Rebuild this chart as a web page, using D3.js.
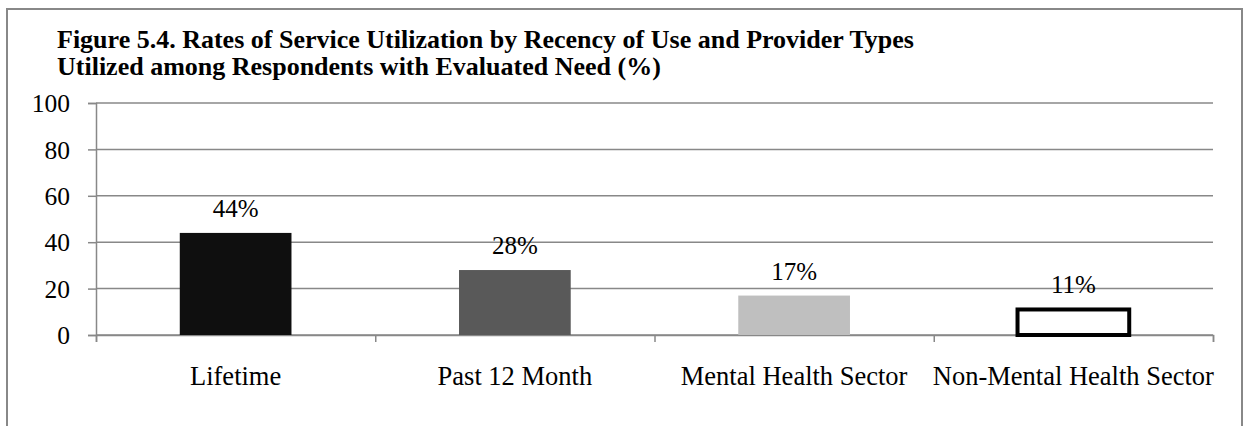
<!DOCTYPE html>
<html>
<head>
<meta charset="utf-8">
<script src="https://cdnjs.cloudflare.com/ajax/libs/d3/7.8.5/d3.min.js"></script>
<style>
  html, body { margin: 0; padding: 0; background: #fff; }
  svg { display: block; font-family: "Liberation Serif", "Times New Roman", serif; }
</style>
</head>
<body>
<svg id="chart" width="1244" height="426"></svg>
<script>
const categories = ['Lifetime', 'Past 12 Month', 'Mental Health Sector', 'Non-Mental Health Sector'];
const values = [44, 28, 17, 11];
const barColors = ['#0f0f0f', '#595959', '#bfbfbf', '#ffffff'];
const yTicks = [0, 20, 40, 60, 80, 100];
const titleLines = [
  'Figure 5.4. Rates of Service Utilization by Recency of Use and Provider Types',
  'Utilized among Respondents with Evaluated Need (%)'
];

const svg = d3.select('#chart');
const plot = { left: 96, right: 1213, top: 103, bottom: 335 };
const gridColor = '#888888';

// outer frame (bottom edge runs off the picture)
svg.append('rect')
  .attr('x', 7)
  .attr('y', 9)
  .attr('width', 1235)
  .attr('height', 440)
  .attr('fill', 'none')
  .attr('stroke', gridColor)
  .attr('stroke-width', 2);

// title
svg.append('text')
  .attr('x', 57)
  .attr('y', 48)
  .style('font-size', '26px')
  .style('font-weight', 'bold')
  .selectAll('tspan')
  .data(titleLines)
  .enter()
  .append('tspan')
  .attr('x', 57)
  .attr('dy', (d, i) => i === 0 ? 0 : 27)
  .text(d => d);

const y = d3.scaleLinear().domain([0, 100]).range([plot.bottom, plot.top]);
const x = d3.scaleBand()
  .domain(categories)
  .range([plot.left, plot.right])
  .paddingInner(0.6)
  .paddingOuter(0.3);
const slots = d3.scaleLinear().domain([0, categories.length]).range([plot.left, plot.right]);

// gridlines
svg.append('g')
  .selectAll('line')
  .data(yTicks)
  .enter()
  .append('line')
  .attr('x1', plot.left)
  .attr('x2', plot.right)
  .attr('y1', d => y(d))
  .attr('y2', d => y(d))
  .attr('stroke', gridColor)
  .attr('stroke-width', 1.5);

// y axis
const yAxis = svg.append('g')
  .attr('transform', `translate(${plot.left},0)`)
  .call(d3.axisLeft(y).tickValues(yTicks).tickSize(8).tickPadding(18));
yAxis.select('.domain').attr('stroke', gridColor).attr('stroke-width', 1.5);
yAxis.selectAll('.tick line').attr('stroke', gridColor).attr('stroke-width', 1.5);
yAxis.selectAll('.tick text')
  .style('font-size', '25.5px')
  .style('font-family', '"Liberation Serif", "Times New Roman", serif')
  .attr('fill', '#000')
  .attr('dy', '0.34em');

// x axis with ticks between categories
const xAxis = svg.append('g')
  .attr('transform', `translate(0,${plot.bottom})`)
  .call(d3.axisBottom(slots).tickValues(d3.range(categories.length + 1)).tickSize(7).tickFormat(''));
xAxis.select('.domain').attr('stroke', gridColor).attr('stroke-width', 1.5);
xAxis.selectAll('.tick line').attr('stroke', gridColor).attr('stroke-width', 1.5);

// category labels
svg.append('g')
  .selectAll('text')
  .data(categories)
  .enter()
  .append('text')
  .attr('x', d => x(d) + x.bandwidth() / 2)
  .attr('y', 385)
  .attr('text-anchor', 'middle')
  .style('font-size', '26.5px')
  .text(d => d);

// bars
svg.append('g')
  .selectAll('rect')
  .data(values)
  .enter()
  .append('rect')
  .attr('x', (d, i) => x(categories[i]))
  .attr('y', d => y(d))
  .attr('width', x.bandwidth())
  .attr('height', d => y(0) - y(d))
  .attr('fill', (d, i) => barColors[i])
  .attr('stroke', (d, i) => barColors[i] === '#ffffff' ? '#000' : 'none')
  .attr('stroke-width', 4);

// value labels
svg.append('g')
  .selectAll('text')
  .data(values)
  .enter()
  .append('text')
  .attr('x', (d, i) => x(categories[i]) + x.bandwidth() / 2)
  .attr('y', d => y(d) - 16)
  .attr('text-anchor', 'middle')
  .style('font-size', '25px')
  .text(d => d + '%');
</script>
</body>
</html>
